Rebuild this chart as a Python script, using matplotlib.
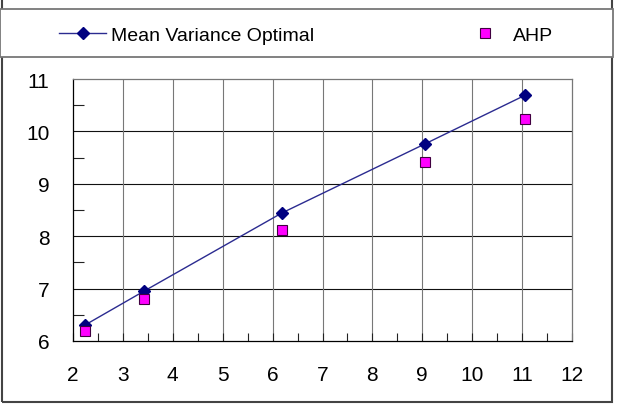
import matplotlib
matplotlib.use("Agg")
import matplotlib.pyplot as plt
from matplotlib.lines import Line2D
from matplotlib.patches import Rectangle
from matplotlib.ticker import MultipleLocator

# Data
mv_x = [2.25, 3.42, 6.18, 9.05, 11.06]
mv_y = [6.31, 6.95, 8.44, 9.76, 10.69]
ahp_x = [2.25, 3.42, 6.18, 9.05, 11.06]
ahp_y = [6.20, 6.80, 8.12, 9.41, 10.23]
x_ticks = [2, 3, 4, 5, 6, 7, 8, 9, 10, 11, 12]
y_ticks = [6, 7, 8, 9, 10, 11]
series_names = ["Mean Variance Optimal", "AHP"]

W, H = 621, 406
plt.rcParams['font.family'] = ['Liberation Sans', 'DejaVu Sans']
fig = plt.figure(figsize=(W / 100, H / 100), dpi=100)
ax = fig.add_axes([73 / W, 1 - 342 / H, (572 - 73) / W, (342 - 80) / H])

line_color = '#2b2b90'
ax.plot(mv_x, mv_y, color=line_color, lw=1.0, marker='D', ms=6,
        mfc='#000080', mec='#000080', zorder=4, label=series_names[0])
ax.plot(ahp_x, ahp_y, ls='none', marker='s', ms=7.5, mfc='#ff00ff',
        mec='#400040', mew=0.8, zorder=5, label=series_names[1])

ax.set_xlim(2, 12)
ax.set_ylim(6, 11)
ax.set_xticks(x_ticks)
ax.set_yticks(y_ticks)
ax.xaxis.set_minor_locator(MultipleLocator(0.5))
ax.yaxis.set_minor_locator(MultipleLocator(0.5))

for yv in y_ticks[1:-1]:
    ax.axhline(yv, color='#111111', lw=0.8, zorder=1)
for xv in x_ticks[1:-1]:
    ax.axvline(xv, color='#777777', lw=0.8, zorder=1)

ax.tick_params(axis='both', which='both', direction='in', colors='#222222')
ax.tick_params(axis='x', which='major', length=6, width=0.8, pad=17, labelsize=15, labelcolor='black')
ax.tick_params(axis='x', which='minor', length=6, width=0.8)
ax.tick_params(axis='y', which='major', length=0, pad=17, labelsize=15, labelcolor='black')
ax.tick_params(axis='y', which='minor', length=8, width=0.8)
ax.spines['left'].set_color('black')
ax.spines['bottom'].set_color('black')
ax.spines['top'].set_color('#777777')
ax.spines['right'].set_color('#777777')
for s in ax.spines.values():
    s.set_linewidth(0.9)

# Outer chart frame (top edge lies above the visible area)
fig.patches.append(Rectangle((2 / W, 1 - 403 / H), (612 - 2) / W, 420 / H,
                             transform=fig.transFigure, fill=False,
                             edgecolor='#444444', lw=1.5, zorder=0))
# Legend box
fig.patches.append(Rectangle((0 / W, 1 - 58 / H), 613 / W, (58 - 10) / H,
                             transform=fig.transFigure, facecolor='white',
                             edgecolor='#777777', lw=1.3, zorder=1))

h1 = Line2D([], [], color=line_color, lw=1.0, marker='D', ms=6,
            mfc='#000080', mec='#000080')
h2 = Line2D([], [], ls='none', marker='s', ms=7.5, mfc='#ff00ff',
            mec='#400040', mew=0.8)
fs = 14
em = fs * 100 / 72
leg1 = fig.legend([h1], [series_names[0]], loc='center left',
                  bbox_to_anchor=(59 / W, 1 - 36 / H), frameon=False,
                  fontsize=fs, handlelength=47 / em, handletextpad=5 / em,
                  borderpad=0, borderaxespad=0)
leg2 = fig.legend([h2], [series_names[1]], loc='center left',
                  bbox_to_anchor=(461 / W, 1 - 36 / H), frameon=False,
                  fontsize=fs, handlelength=47 / em, handletextpad=5 / em,
                  borderpad=0, borderaxespad=0)

fig.savefig('out.png', dpi=100)
